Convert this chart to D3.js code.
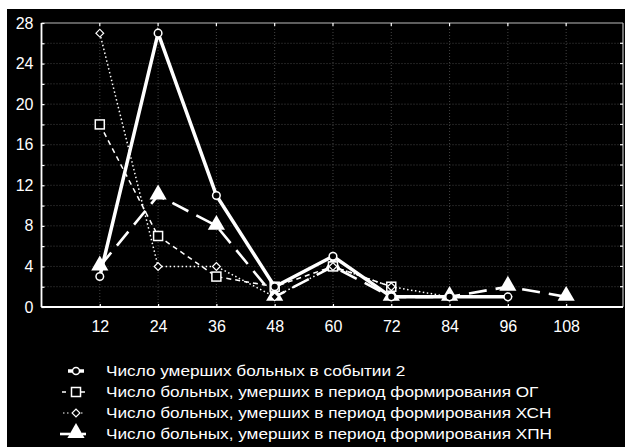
<!DOCTYPE html>
<html>
<head>
<meta charset="utf-8">
<script src="https://cdn.jsdelivr.net/npm/d3@7"></script>
<style>
  body { margin: 0; background: #fff; }
  svg text { font-family: "Liberation Sans", Arial, sans-serif; fill: #fff; }
</style>
</head>
<body>
<script>
// Chart data
var months = [12, 24, 36, 48, 60, 72, 84, 96, 108];
var deaths2 = [3, 27, 11, 2, 5, 1, 1, 1];          // solid, circles
var deathsOG = [18, 7, 3, 2, 4, 2];                // dashed, squares
var deathsXSN = [27, 4, 4, 1, 4, 2, 1, 1];         // dotted, diamonds
var deathsXPN = [4, 11, 8, 1, 4, 1, 1, 2, 1];      // long dash, triangles
var yTicks = [0, 4, 8, 12, 16, 20, 24, 28];
var legendLabels = [
    "Число умерших больных в событии 2",
    "Число больных, умерших в период формирования ОГ",
    "Число больных, умерших в период формирования ХСН",
    "Число больных, умерших в период формирования ХПН"
];

window.onload = function(){
    var w = 625, h = 447;
    var left = 41.5, right = 623, top = 23, bottom = 307;

    var svg = d3.select("body").append("svg")
        .attr("width", w)
        .attr("height", h);

    // black panel (white margin at top and left as in the picture)
    svg.append("rect")
        .attr("x", 7).attr("y", 9)
        .attr("width", w - 7).attr("height", h - 9)
        .style("fill", "#000");

    var x = d3.scaleLinear().domain([0, 120]).range([left, left + (right - left) * 120 / 119.7]);
    var y = d3.scaleLinear().domain([0, 28]).range([bottom, top]);

    // dotted grid
    var grid = svg.append("g").attr("class", "grid");
    grid.selectAll(".hgrid")
        .data(d3.range(2, 28, 2))
        .enter().append("line")
        .attr("x1", left).attr("x2", right)
        .attr("y1", function(d){ return y(d); })
        .attr("y2", function(d){ return y(d); })
        .style("stroke", "#444").style("stroke-width", 1)
        .style("stroke-dasharray", "1,2");
    grid.selectAll(".vgrid")
        .data(months)
        .enter().append("line")
        .attr("y1", top).attr("y2", bottom)
        .attr("x1", function(d){ return x(d); })
        .attr("x2", function(d){ return x(d); })
        .style("stroke", "#444").style("stroke-width", 1)
        .style("stroke-dasharray", "1,2");

    // frame
    svg.append("line").attr("x1", left).attr("x2", right).attr("y1", top).attr("y2", top)
        .style("stroke", "#bbb").style("stroke-width", 1.2);
    svg.append("line").attr("x1", right).attr("x2", right).attr("y1", top).attr("y2", bottom)
        .style("stroke", "#bbb").style("stroke-width", 1.2);

    // axes with inward ticks
    var xAxis = d3.axisBottom(x).tickValues(months).tickSize(-3).tickPadding(14);
    var yAxis = d3.axisLeft(y).tickValues(d3.range(0, 29, 2)).tickSize(-3).tickPadding(8)
        .tickFormat(function(d){ return yTicks.indexOf(d) >= 0 ? d : ""; });

    var gx = svg.append("g")
        .attr("transform", "translate(0," + bottom + ")")
        .call(xAxis);
    var gy = svg.append("g")
        .attr("transform", "translate(" + left + ",0)")
        .call(yAxis);
    [gx, gy].forEach(function(g){
        g.select(".domain").style("stroke", "#fff").style("stroke-width", 1.8);
        g.selectAll(".tick line").style("stroke", "#fff").style("stroke-width", 1.2);
        g.selectAll(".tick text").style("font-size", "16px").style("fill", "#fff");
    });
    gy.select(".domain").attr("d", "M0," + bottom + "V" + top);
    gx.select(".domain").attr("d", "M" + left + ",0H" + right);

    // top and right inward ticks
    svg.selectAll(".ttick").data(months).enter().append("line")
        .attr("x1", function(d){ return x(d); }).attr("x2", function(d){ return x(d); })
        .attr("y1", top).attr("y2", top + 3)
        .style("stroke", "#fff").style("stroke-width", 1.2);
    svg.selectAll(".rtick").data(d3.range(2, 28, 2)).enter().append("line")
        .attr("x1", right).attr("x2", right - 3)
        .attr("y1", function(d){ return y(d); }).attr("y2", function(d){ return y(d); })
        .style("stroke", "#fff").style("stroke-width", 1.2);

    var line = d3.line()
        .x(function(d, i){ return x(months[i]); })
        .y(function(d){ return y(d); });

    // series 4: long dashes with filled triangles
    svg.append("path").datum(deathsXPN)
        .attr("d", line)
        .style("fill", "none").style("stroke", "#fff").style("stroke-width", 2.6)
        .style("stroke-dasharray", "18,9");
    var tri = d3.symbol().type(d3.symbolTriangle).size(128);
    svg.selectAll(".tri").data(deathsXPN).enter().append("path")
        .attr("d", tri)
        .attr("transform", function(d, i){ return "translate(" + x(months[i]) + "," + (y(d) - 1) + ")"; })
        .style("fill", "#fff");

    // series 2: dashed with squares
    svg.append("path").datum(deathsOG)
        .attr("d", line)
        .style("fill", "none").style("stroke", "#fff").style("stroke-width", 1.5)
        .style("stroke-dasharray", "5,4");
    svg.selectAll(".sq").data(deathsOG).enter().append("rect")
        .attr("x", function(d, i){ return x(months[i]) - 4.5; })
        .attr("y", function(d){ return y(d) - 4.5; })
        .attr("width", 9).attr("height", 9)
        .style("fill", "#000").style("stroke", "#fff").style("stroke-width", 1.5);

    // series 3: dotted with diamonds (square turned 45 degrees)
    svg.append("path").datum(deathsXSN)
        .attr("d", line)
        .style("fill", "none").style("stroke", "#fff").style("stroke-width", 1.5)
        .style("stroke-dasharray", "1.5,2.5");
    var dia = d3.symbol().type(d3.symbolSquare).size(30);
    svg.selectAll(".dia").data(deathsXSN).enter().append("path")
        .attr("d", dia)
        .attr("transform", function(d, i){ return "translate(" + x(months[i]) + "," + y(d) + ") rotate(45)"; })
        .style("fill", "#000").style("stroke", "#fff").style("stroke-width", 1.2);

    // series 1: thick solid with circles
    svg.append("path").datum(deaths2)
        .attr("d", line)
        .style("fill", "none").style("stroke", "#fff").style("stroke-width", 3.5);
    svg.selectAll(".circ").data(deaths2).enter().append("circle")
        .attr("cx", function(d, i){ return x(months[i]); })
        .attr("cy", function(d){ return y(d); })
        .attr("r", 3.8)
        .style("fill", "#000").style("stroke", "#fff").style("stroke-width", 1.5);

    // legend
    var rowY = [371, 392, 413, 434];
    var cx = 76;
    var legend = svg.append("g").attr("class", "legend");
    // text is a little stretched sideways in the picture
    legend.append("g")
        .attr("transform", "translate(106,0) scale(1.11,1)")
        .selectAll("text").data(legendLabels).enter().append("text")
        .attr("x", 0)
        .attr("y", function(d, i){ return rowY[i]; })
        .attr("dy", "0.35em")
        .style("font-size", "15.5px")
        .text(function(d){ return d; });

    // row 1
    legend.append("line").attr("x1", 68).attr("x2", 84).attr("y1", rowY[0]).attr("y2", rowY[0])
        .style("stroke", "#fff").style("stroke-width", 3.5);
    legend.append("circle").attr("cx", cx).attr("cy", rowY[0]).attr("r", 3.5)
        .style("fill", "#000").style("stroke", "#fff").style("stroke-width", 1.5);
    // row 2
    legend.append("line").attr("x1", 62).attr("x2", 66).attr("y1", rowY[1]).attr("y2", rowY[1])
        .style("stroke", "#fff").style("stroke-width", 1.5);
    legend.append("line").attr("x1", 80).attr("x2", 85).attr("y1", rowY[1]).attr("y2", rowY[1])
        .style("stroke", "#fff").style("stroke-width", 1.5);
    legend.append("rect").attr("x", cx - 4.5).attr("y", rowY[1] - 4.5).attr("width", 9).attr("height", 9)
        .style("fill", "#000").style("stroke", "#fff").style("stroke-width", 1.5);
    // row 3
    legend.append("line").attr("x1", 63).attr("x2", 71).attr("y1", rowY[2]).attr("y2", rowY[2])
        .style("stroke", "#fff").style("stroke-width", 1.2).style("stroke-dasharray", "1.5,2.5");
    legend.append("line").attr("x1", 81).attr("x2", 84).attr("y1", rowY[2]).attr("y2", rowY[2])
        .style("stroke", "#fff").style("stroke-width", 1.2).style("stroke-dasharray", "1.5,2.5");
    legend.append("path").attr("d", dia)
        .attr("transform", "translate(" + cx + "," + rowY[2] + ") rotate(45)")
        .style("fill", "#000").style("stroke", "#fff").style("stroke-width", 1.2);
    // row 4
    legend.append("line").attr("x1", 60).attr("x2", 70).attr("y1", rowY[3]).attr("y2", rowY[3])
        .style("stroke", "#fff").style("stroke-width", 2.6);
    legend.append("line").attr("x1", 82).attr("x2", 86).attr("y1", rowY[3]).attr("y2", rowY[3])
        .style("stroke", "#fff").style("stroke-width", 2.6);
    legend.append("path").attr("d", tri)
        .attr("transform", "translate(" + cx + "," + (rowY[3] - 1) + ")")
        .style("fill", "#fff");
};
</script>
</body>
</html>
